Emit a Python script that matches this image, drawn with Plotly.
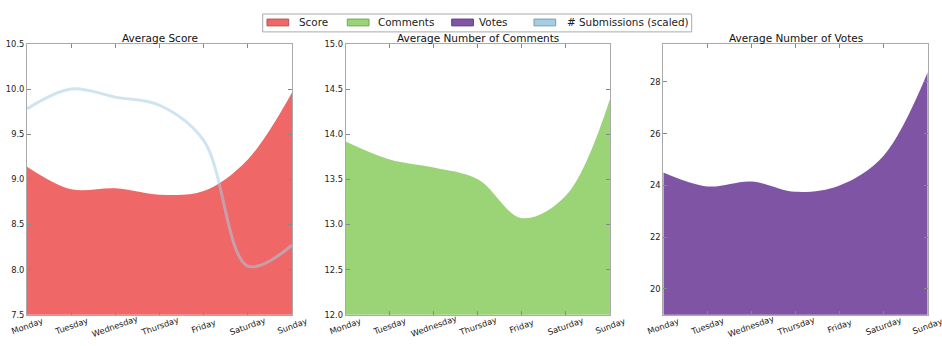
import plotly.graph_objects as go

# Weekday averages
days = ["Monday", "Tuesday", "Wednesday", "Thursday", "Friday", "Saturday", "Sunday"]
avg_score = [9.14, 8.89, 8.90, 8.83, 8.87, 9.22, 9.96]
submissions_scaled = [9.78, 10.0, 9.91, 9.82, 9.43, 8.04, 8.27]
avg_comments = [13.92, 13.72, 13.63, 13.50, 13.07, 13.32, 14.39]
avg_votes = [24.5, 23.96, 24.15, 23.75, 24.0, 25.15, 28.37]

panel_titles = ["Average Score", "Average Number of Comments", "Average Number of Votes"]
legend_labels = ["Score", "Comments", "Votes", "# Submissions (scaled)"]

RED = "rgb(240,103,103)"
GREEN = "rgb(155,212,119)"
PURPLE = "rgb(127,84,165)"
BLUE = "rgb(166,206,227)"

W, H = 942, 346
FONT = "DejaVu Sans"


def px_x(v):
    return v / W


def px_y(v):
    return 1 - v / H


x_domains = [
    [px_x(27), px_x(292)],
    [px_x(345.7), px_x(610)],
    [px_x(663.3), px_x(927.7)],
]
y_domain = [px_y(319), px_y(40)]

fig = go.Figure()

series = [(avg_score, RED, "x", "y"), (avg_comments, GREEN, "x2", "y2"), (avg_votes, PURPLE, "x3", "y3")]
for vals, col, xa, ya in series:
    fig.add_trace(go.Scatter(
        x=days, y=vals, xaxis=xa, yaxis=ya, mode="lines",
        line=dict(shape="spline", width=0, color=col),
        fill="tozeroy", fillcolor=col, showlegend=False, hoverinfo="skip",
    ))

fig.add_trace(go.Scatter(
    x=days, y=submissions_scaled, xaxis="x", yaxis="y", mode="lines",
    line=dict(shape="spline", width=3, color="rgba(166,206,227,0.55)"),
    showlegend=False, hoverinfo="skip",
))

axis_common = dict(
    showline=True, linecolor="#aaaaaa", linewidth=1, mirror="ticks",
    ticks="inside", ticklen=4, tickcolor="#888888", tickwidth=1,
    showgrid=False, zeroline=False,
)

y_ranges = [[7.5, 10.5], [12.0, 15.0], [19.0, 29.47]]
y_ticks = [
    [7.5, 8.0, 8.5, 9.0, 9.5, 10.0, 10.5],
    [12.0, 12.5, 13.0, 13.5, 14.0, 14.5, 15.0],
    [20, 22, 24, 26, 28],
]
y_formats = [".1f", ".1f", "d"]

layout = dict(
    width=W, height=H, margin=dict(l=0, r=0, t=0, b=0),
    plot_bgcolor="white", paper_bgcolor="white",
    font=dict(family=FONT, color="#222222", size=8),
    showlegend=False,
)
for i in range(3):
    sfx = "" if i == 0 else str(i + 1)
    layout["xaxis" + sfx] = dict(
        axis_common, domain=x_domains[i], anchor="y" + sfx,
        type="category", categoryorder="array", categoryarray=days,
        range=[0, 6], showticklabels=False,
    )
    layout["yaxis" + sfx] = dict(
        axis_common, domain=y_domain, anchor="x" + sfx,
        range=y_ranges[i], tickvals=y_ticks[i], tickformat=y_formats[i],
        tickfont=dict(size=8.3, color="#222222"),
    )
fig.update_layout(**layout)

annotations = []
# slanted weekday labels centred under each tick
for i in range(3):
    sfx = "" if i == 0 else str(i + 1)
    for d in days:
        annotations.append(dict(
            x=d, y=px_y(331), xref="x" + sfx, yref="paper",
            text=d, showarrow=False, textangle=-20,
            xanchor="center", yanchor="middle",
            font=dict(size=8.3, color="#222222", family=FONT),
        ))
    annotations.append(dict(
        x=(x_domains[i][0] + x_domains[i][1]) / 2, y=px_y(33.5),
        xref="paper", yref="paper", text=panel_titles[i], showarrow=False,
        xanchor="center", yanchor="middle",
        font=dict(size=10.5, color="#111111", family=FONT),
    ))

shapes = []
# legend frame
shapes.append(dict(
    type="rect", xref="paper", yref="paper",
    x0=px_x(262.7), x1=px_x(691.7), y0=px_y(27.7), y1=px_y(9.3),
    line=dict(color="#aaaaaa", width=1), fillcolor="white",
))
patch_x = [267, 347.3, 451.7, 534]
text_x = [296.7, 376, 476.7, 565]
patch_cols = [RED, GREEN, PURPLE, BLUE]
edge_cols = ["#b55050", "#74a35a", "#5e3d7d", "#7d9cad"]
for lab, px0, tx, c, ec in zip(legend_labels, patch_x, text_x, patch_cols, edge_cols):
    shapes.append(dict(
        type="rect", xref="paper", yref="paper",
        x0=px_x(px0), x1=px_x(px0 + 21.7), y0=px_y(21.5), y1=px_y(14.5),
        line=dict(color=ec, width=1), fillcolor=c,
    ))
    annotations.append(dict(
        x=px_x(tx), y=px_y(18), xref="paper", yref="paper",
        text=lab, showarrow=False, xanchor="left", yanchor="middle",
        font=dict(size=10.4, color="#222222", family=FONT),
    ))

fig.update_layout(annotations=annotations, shapes=shapes)
fig.write_html("out.html")
